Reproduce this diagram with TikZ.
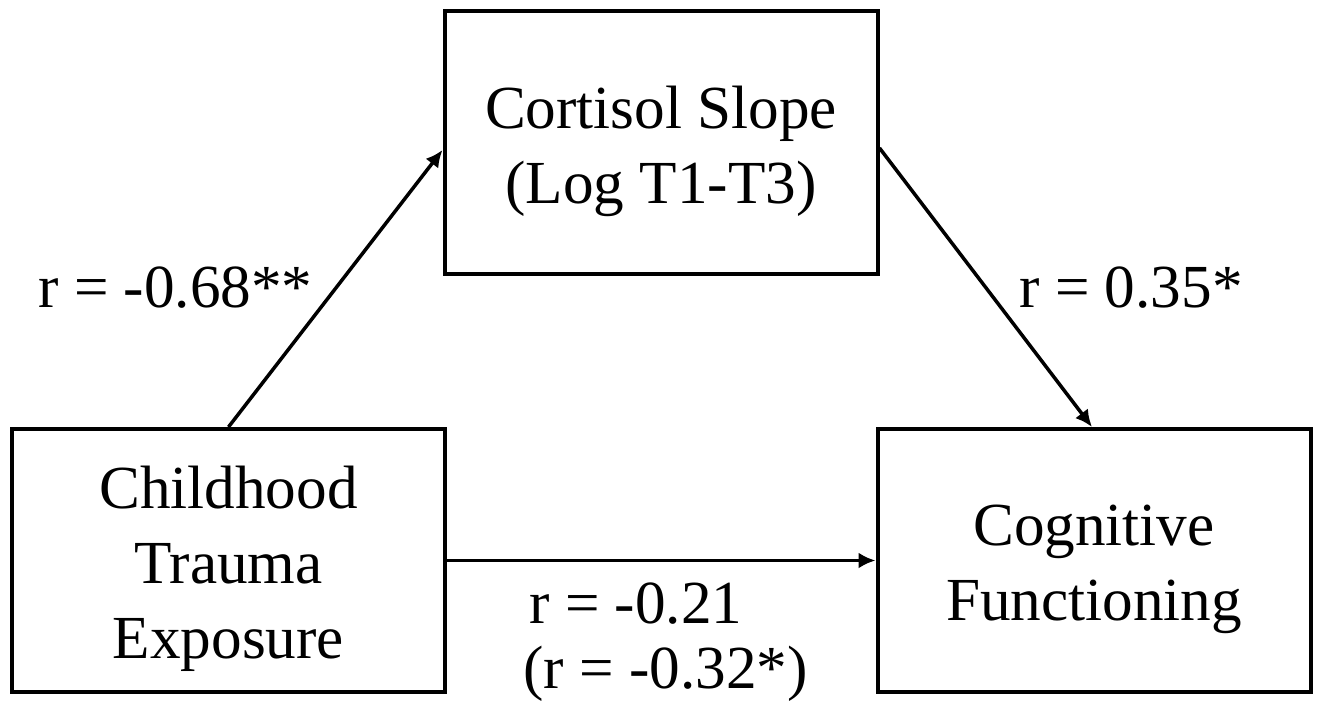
\documentclass[tikz,border=0pt]{standalone}
\usepackage{fontspec}
\setmainfont{Liberation Serif}
\usetikzlibrary{arrows.meta}
\begin{document}
\begin{tikzpicture}[x=0.5pt,y=-0.5pt,
  varbox/.style={draw=black,line width=2pt,minimum width=216.5pt,minimum height=131.5pt,inner sep=0pt},
  boxtext/.style={align=center,inner sep=0pt,font=\fontsize{30.6}{37.4}\selectfont},
  coeff/.style={anchor=base west,inner sep=0pt,font=\fontsize{30.6}{37.4}\selectfont},
  path/.style={line width=1.75pt,-{Latex[length=8.5pt,width=8pt]}}]
\useasboundingbox (0,0) rectangle (1318,711);

% the three variables
\node[varbox] (trauma) at (228.5,560.5) {};
\node[varbox] (cortisol) at (661,142.5) {};
\node[varbox] (cognition) at (1094,560.5) {};

\node[boxtext] (traumaText) at (228.5,569) {Childhood\\Trauma\\Exposure};
\node[boxtext] (cortisolText) at (661,151) {Cortisol Slope\\(Log T1-T3)};
\node[boxtext] (cognitionText) at (1094,569) {Cognitive\\Functioning};

% mediation paths
\draw[path] (trauma.north) -- ([yshift=-3.75pt]cortisol.west);
\draw[path] ([yshift=-2.75pt]cortisol.east) -- ([xshift=-1pt]cognition.north);
\draw[path] (trauma.east) -- (cognition.west);

% path coefficients
\node[coeff] (aPath) at (38,307) {r = -0.68**};
\node[coeff] (bPath) at (1019,307) {r = 0.35*};
\node[coeff] (cPath) at (529,623) {r = -0.21};
\node[coeff] (cPrime) at (523,688) {(r = -0.32*)};
\end{tikzpicture}
\end{document}
